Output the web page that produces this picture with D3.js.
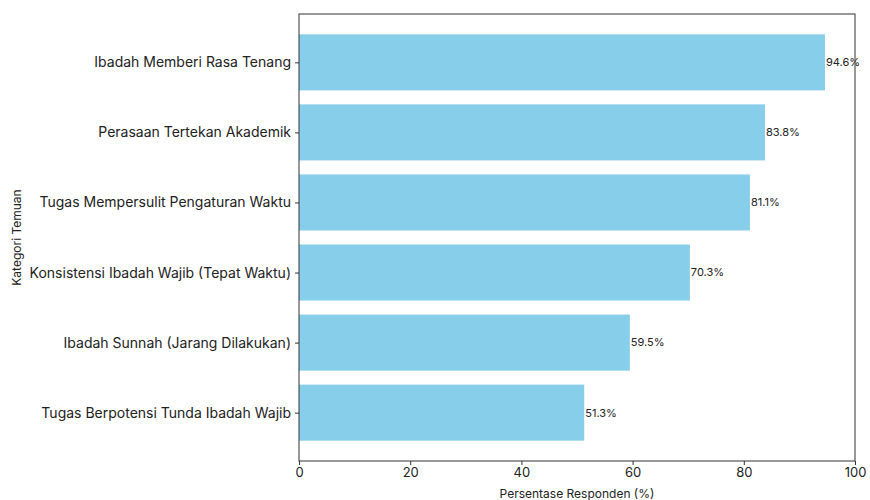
<!DOCTYPE html>
<html>
<head>
<meta charset="utf-8">
<script src="https://cdn.jsdelivr.net/npm/d3@7"></script>
<style>
  body { margin: 0; background: #fff; }
  svg { font-family: Inter, "Open Sans", sans-serif; }
</style>
</head>
<body>
<div id="chart"></div>
<script>
// categories listed bottom to top
const categories = [
  "Tugas Berpotensi Tunda Ibadah Wajib",
  "Ibadah Sunnah (Jarang Dilakukan)",
  "Konsistensi Ibadah Wajib (Tepat Waktu)",
  "Tugas Mempersulit Pengaturan Waktu",
  "Perasaan Tertekan Akademik",
  "Ibadah Memberi Rasa Tenang"
];
const percentages = [51.3, 59.5, 70.3, 81.1, 83.8, 94.6];
const xTicks = [0, 20, 40, 60, 80, 100];

const margin = { top: 14, right: 15, bottom: 39, left: 299 };
const width = 870 - margin.left - margin.right;
const height = 500 - margin.top - margin.bottom;

const svg = d3
  .select("#chart")
  .append("svg")
  .attr("width", 870)
  .attr("height", 500)
  .append("g")
  .attr("transform", `translate(${margin.left}, ${margin.top})`);

const x = d3.scaleLinear().domain([0, 100]).range([0, width]);
const y = d3.scaleLinear().domain([-0.69, categories.length - 1 + 0.69]).range([height, 0]);
const barH = y(0) - y(0.8);

const data = categories.map((c, i) => ({ category: c, value: percentages[i], idx: i }));

// Bars
svg
  .selectAll("rect.bar")
  .data(data)
  .join("rect")
  .attr("class", "bar")
  .attr("x", x(0))
  .attr("y", (d) => y(d.idx + 0.4))
  .attr("width", (d) => x(d.value) - x(0))
  .attr("height", barH)
  .attr("fill", "#87ceeb");

// Value labels
svg
  .selectAll("text.val")
  .data(data)
  .join("text")
  .attr("class", "val")
  .attr("x", (d) => x(d.value) + 1)
  .attr("y", (d) => y(d.idx))
  .attr("dy", "0.35em")
  .attr("font-size", 11)
  .attr("fill", "#222")
  .text((d) => d.value.toFixed(1) + "%");

// X axis
const xAxis = svg
  .append("g")
  .attr("transform", `translate(0, ${height})`)
  .call(d3.axisBottom(x).tickValues(xTicks).tickSize(4).tickPadding(3));
xAxis.selectAll("text").attr("font-size", 13).attr("fill", "#222");

// Y axis
const yAxis = svg
  .append("g")
  .call(
    d3.axisLeft(y)
      .tickValues(d3.range(categories.length))
      .tickFormat((i) => categories[i])
      .tickSize(4)
      .tickPadding(4)
  );
yAxis.selectAll("text").attr("font-size", 14).attr("fill", "#222");

[xAxis, yAxis].forEach((g) => {
  g.select(".domain").remove();
  g.selectAll("line").attr("stroke", "#333");
  g.attr("font-family", null);
});

// Frame
svg
  .append("rect")
  .attr("width", width)
  .attr("height", height)
  .attr("fill", "none")
  .attr("stroke", "#333")
  .attr("stroke-width", 1);

// Axis titles
svg
  .append("text")
  .attr("x", width / 2)
  .attr("y", height + 37)
  .attr("text-anchor", "middle")
  .attr("font-size", 12)
  .attr("fill", "#222")
  .text("Persentase Responden (%)");

svg
  .append("text")
  .attr("transform", `translate(${17 - margin.left}, ${height / 2}) rotate(-90)`)
  .attr("text-anchor", "middle")
  .attr("dy", "0.35em")
  .attr("font-size", 12)
  .attr("fill", "#222")
  .text("Kategori Temuan");
</script>
</body>
</html>
